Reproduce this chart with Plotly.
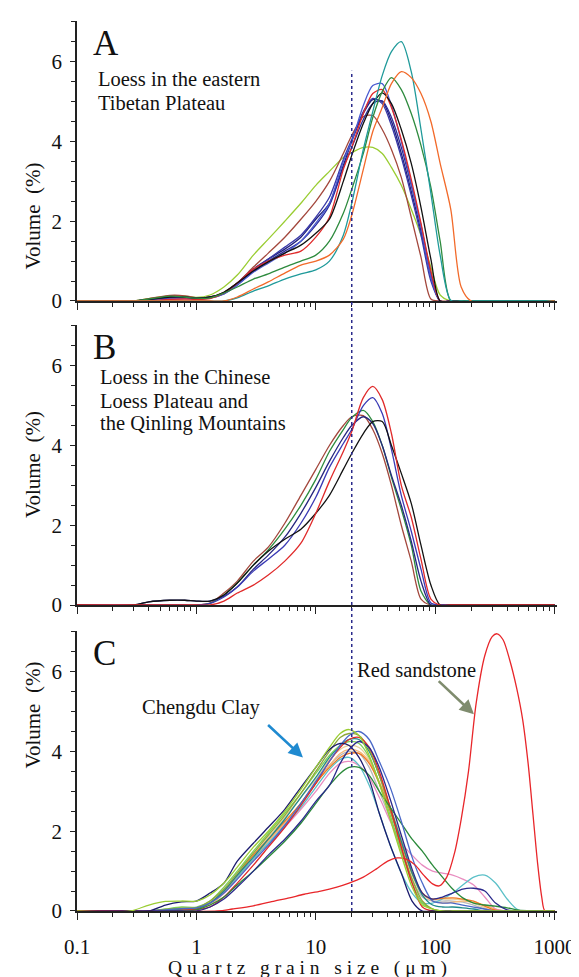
import math
import plotly.graph_objects as go

# ---------------- data ----------------
# Panel A / B common grain-size grid (micrometres)
X_AB = [0.1, 0.3, 0.4, 0.6, 0.8, 1.0, 1.3, 1.7, 2.2, 3.0, 4.0, 5.5, 7.5, 10, 13, 17, 20, 25, 30, 36,
        43, 52, 63, 76, 92, 110, 135, 165, 200, 1000]

A_yellowgreen = [0, 0, 0.06, 0.13, 0.12, 0.09, 0.15, 0.35, 0.65, 1.15, 1.55, 2.0, 2.45, 2.9, 3.25, 3.6, 3.72, 3.85, 3.85, 3.7, 3.35, 2.9, 2.3, 1.65, 0.85, 0.15, 0, 0, 0, 0]
A_brown = [0, 0, 0.06, 0.14, 0.13, 0.08, 0.1, 0.22, 0.45, 0.85, 1.2, 1.6, 2.05, 2.5, 3.0, 3.7, 4.15, 4.62, 4.65, 4.3, 3.8, 3.1, 2.1, 1.1, 0.05, 0, 0, 0, 0, 0]
A_navy1 = [0, 0, 0.04, 0.1, 0.1, 0.07, 0.1, 0.2, 0.45, 0.8, 1.05, 1.3, 1.6, 2.05, 2.45, 3.4, 4.0, 4.7, 5.05, 5.0, 4.5, 3.7, 2.75, 1.75, 0.6, 0, 0, 0, 0, 0]
A_navy2 = [0, 0, 0.03, 0.08, 0.08, 0.06, 0.08, 0.18, 0.4, 0.75, 1.0, 1.25, 1.5, 1.9, 2.4, 3.35, 3.85, 4.55, 4.95, 5.02, 4.6, 3.85, 2.9, 1.9, 0.7, 0, 0, 0, 0, 0]
A_navy3 = [0, 0, 0.03, 0.08, 0.08, 0.06, 0.08, 0.2, 0.42, 0.78, 1.05, 1.35, 1.65, 2.1, 2.6, 3.55, 4.05, 4.75, 5.08, 4.95, 4.4, 3.6, 2.65, 1.65, 0.5, 0, 0, 0, 0, 0]
A_blue = [0, 0, 0, 0.05, 0.06, 0.05, 0.07, 0.18, 0.4, 0.72, 0.95, 1.2, 1.5, 1.95, 2.45, 3.5, 4.0, 4.9, 5.4, 5.45, 4.9, 4.0, 2.95, 1.85, 0.6, 0, 0, 0, 0, 0]
A_red = [0, 0, 0, 0.04, 0.05, 0.04, 0.06, 0.2, 0.45, 0.8, 1.0, 1.15, 1.25, 1.6, 2.1, 3.3, 3.85, 4.7, 5.2, 5.3, 4.85, 4.05, 3.05, 1.95, 0.75, 0, 0, 0, 0, 0]
A_black = [0, 0, 0.04, 0.1, 0.1, 0.07, 0.1, 0.22, 0.45, 0.75, 0.98, 1.2, 1.4, 1.7, 2.05, 3.0, 3.65, 4.45, 4.95, 5.22, 4.95, 4.3, 3.45, 2.35, 1.05, 0, 0, 0, 0, 0]
A_green = [0, 0, 0.05, 0.12, 0.1, 0.07, 0.08, 0.2, 0.35, 0.55, 0.68, 0.85, 1.0, 1.15, 1.5, 2.2, 2.8, 3.7, 4.6, 5.25, 5.6, 5.3, 4.7, 3.9, 2.85, 1.5, 0, 0, 0, 0]
A_teal = [0, 0, 0, 0, 0, 0, 0, 0, 0.08, 0.25, 0.38, 0.55, 0.68, 0.78, 1.0, 1.65, 2.45, 3.8, 4.75, 5.65, 6.25, 6.5, 5.75, 4.3, 2.7, 1.15, 0.02, 0, 0, 0]
A_orange = [0, 0, 0, 0, 0, 0, 0, 0, 0.1, 0.3, 0.48, 0.7, 0.9, 1.0, 1.15, 1.55, 2.15, 3.3, 4.25, 4.85, 5.45, 5.75, 5.6, 5.2, 4.5, 3.45, 2.3, 0.35, 0, 0]

B_brown = [0, 0, 0, 0, 0, 0, 0.05, 0.3, 0.6, 1.1, 1.45, 2.05, 2.75, 3.4, 4.0, 4.5, 4.72, 4.75, 4.4, 3.8, 3.0, 2.0, 1.1, 0.15, 0, 0, 0, 0, 0, 0]
B_green = [0, 0, 0, 0, 0, 0, 0.04, 0.25, 0.55, 1.0, 1.38, 1.9, 2.5, 3.15, 3.85, 4.4, 4.7, 4.88, 4.6, 4.0, 3.2, 2.4, 1.5, 0.35, 0, 0, 0, 0, 0, 0]
B_navy = [0, 0, 0.08, 0.12, 0.12, 0.1, 0.1, 0.22, 0.45, 0.9, 1.25, 1.7, 2.3, 2.95, 3.6, 4.2, 4.5, 4.72, 4.55, 4.0, 3.25, 2.5, 1.6, 0.6, 0, 0, 0, 0, 0, 0]
B_blue = [0, 0, 0, 0, 0, 0, 0.04, 0.2, 0.45, 0.85, 1.15, 1.5, 2.05, 2.7, 3.45, 4.05, 4.4, 5.0, 5.2, 4.8, 3.9, 2.75, 1.85, 0.9, 0.05, 0, 0, 0, 0, 0]
B_red = [0, 0, 0, 0, 0, 0, 0, 0.1, 0.3, 0.5, 0.75, 1.1, 1.55, 2.3, 3.1, 3.85, 4.35, 5.2, 5.48, 5.15, 4.3, 3.0, 2.2, 1.15, 0.15, 0, 0, 0, 0, 0]
B_black = [0, 0, 0.08, 0.12, 0.12, 0.1, 0.1, 0.25, 0.55, 1.0, 1.35, 1.65, 1.9, 2.3, 2.75, 3.4, 3.8, 4.3, 4.6, 4.6, 4.0, 3.3, 2.55, 1.5, 0.5, 0, 0, 0, 0, 0]

# Panel C grid
X_C = [0.1, 0.28, 0.4, 0.55, 0.75, 1.0, 1.3, 1.7, 2.2, 3.0, 4.0, 5.5, 7.5, 10, 13, 16, 19, 23, 28, 34,
       42, 52, 64, 78, 95, 115, 140, 170, 210, 260, 320, 400, 500, 1000]

C_navy_out = [0, 0, 0, 0.15, 0.23, 0.25, 0.45, 0.7, 1.25, 1.7, 2.1, 2.55, 3.1, 3.6, 4.05, 4.2, 4.15, 3.85, 3.3, 2.45, 1.65, 0.95, 0.25, 0, 0, 0, 0, 0, 0, 0, 0, 0, 0, 0]
C_navy_in = [0, 0, 0, 0, 0, 0, 0.1, 0.3, 0.6, 1.0, 1.4, 1.8, 2.25, 2.75, 3.15, 3.7, 4.05, 4.25, 4.1, 3.6, 2.8, 1.9, 1.05, 0.45, 0.3, 0.35, 0.45, 0.55, 0.57, 0.5, 0.2, 0.03, 0, 0]
C_blue = [0, 0, 0, 0.03, 0.06, 0.08, 0.2, 0.45, 0.8, 1.25, 1.65, 2.15, 2.7, 3.25, 3.75, 4.15, 4.4, 4.5, 4.3, 3.75, 3.1, 2.25, 1.35, 0.7, 0.25, 0.2, 0.2, 0.15, 0.1, 0.05, 0, 0, 0, 0]
C_green = [0, 0, 0, 0, 0, 0.03, 0.15, 0.35, 0.65, 1.0, 1.35, 1.75, 2.2, 2.7, 3.15, 3.45, 3.6, 3.6, 3.4, 3.0, 2.6, 2.2, 1.8, 1.5, 1.15, 0.85, 0.55, 0.33, 0.2, 0.15, 0.12, 0.08, 0.02, 0]
C_pink = [0, 0, 0, 0, 0.02, 0.05, 0.2, 0.45, 0.8, 1.25, 1.65, 2.1, 2.55, 3.0, 3.45, 3.7, 3.75, 3.65, 3.35, 2.85, 2.25, 1.7, 1.4, 1.15, 1.0, 0.95, 0.9, 0.8, 0.65, 0.35, 0.05, 0, 0, 0]
C_cyan = [0, 0, 0, 0, 0.02, 0.05, 0.2, 0.5, 0.85, 1.3, 1.7, 2.15, 2.6, 3.1, 3.55, 3.8, 3.85, 3.65, 3.15, 2.45, 1.65, 0.95, 0.45, 0.2, 0.2, 0.3, 0.45, 0.65, 0.85, 0.9, 0.7, 0.3, 0.02, 0]
C_orange = [0, 0, 0, 0.02, 0.05, 0.05, 0.2, 0.5, 0.9, 1.4, 1.8, 2.25, 2.7, 3.2, 3.6, 3.85, 3.95, 3.95, 3.7, 3.2, 2.5, 1.7, 0.95, 0.45, 0.3, 0.32, 0.33, 0.3, 0.25, 0.12, 0.02, 0, 0, 0]
C_peach = [0, 0, 0, 0, 0.03, 0.05, 0.15, 0.45, 0.85, 1.3, 1.75, 2.2, 2.7, 3.2, 3.65, 3.95, 4.05, 4.0, 3.75, 3.25, 2.6, 1.8, 1.0, 0.45, 0.25, 0.2, 0.22, 0.25, 0.22, 0.15, 0.05, 0, 0, 0]
C_teal = [0, 0, 0, 0.02, 0.05, 0.06, 0.2, 0.5, 0.9, 1.35, 1.8, 2.3, 2.85, 3.35, 3.85, 4.15, 4.3, 4.3, 4.0, 3.4, 2.6, 1.75, 0.95, 0.4, 0.15, 0.1, 0.1, 0.08, 0.05, 0, 0, 0, 0, 0]
C_lightgreen = [0, 0, 0, 0.05, 0.1, 0.1, 0.25, 0.6, 1.0, 1.5, 1.95, 2.45, 2.95, 3.45, 3.9, 4.15, 4.25, 4.2, 3.85, 3.2, 2.4, 1.5, 0.7, 0.2, 0.05, 0, 0, 0, 0, 0, 0, 0, 0, 0]
C_gray = [0, 0, 0, 0.03, 0.05, 0.06, 0.15, 0.45, 0.85, 1.3, 1.75, 2.2, 2.7, 3.2, 3.65, 3.9, 4.0, 3.95, 3.6, 3.0, 2.3, 1.5, 0.8, 0.35, 0.25, 0.25, 0.25, 0.22, 0.15, 0.05, 0, 0, 0, 0]
C_redclay = [0, 0, 0, 0, 0.02, 0.04, 0.1, 0.35, 0.7, 1.15, 1.6, 2.1, 2.65, 3.2, 3.75, 4.1, 4.3, 4.35, 4.1, 3.5, 2.6, 1.6, 0.7, 0.1, 0, 0, 0, 0, 0, 0, 0, 0, 0, 0]
C_olive = [0, 0, 0, 0.04, 0.07, 0.08, 0.25, 0.55, 0.95, 1.45, 1.9, 2.4, 2.95, 3.5, 4.0, 4.35, 4.45, 4.4, 4.05, 3.4, 2.55, 1.6, 0.8, 0.25, 0.05, 0, 0, 0, 0, 0, 0, 0, 0, 0]
C_tan = [0, 0, 0, 0.03, 0.05, 0.06, 0.2, 0.5, 0.9, 1.4, 1.85, 2.35, 2.85, 3.3, 3.8, 4.05, 4.15, 4.1, 3.8, 3.2, 2.5, 1.7, 0.9, 0.4, 0.3, 0.3, 0.3, 0.28, 0.2, 0.08, 0, 0, 0, 0]
C_yellowgreen = [0, 0, 0.15, 0.24, 0.25, 0.25, 0.4, 0.7, 1.1, 1.6, 2.0, 2.5, 3.05, 3.6, 4.1, 4.45, 4.55, 4.4, 3.9, 3.2, 2.3, 1.4, 0.6, 0.15, 0.05, 0, 0, 0, 0, 0, 0, 0, 0, 0]

# Red sandstone (panel C)
X_RED = [0.1, 1.5, 2, 3, 4.5, 6, 8, 11, 15, 19, 25, 32, 40, 48, 57, 68, 80, 95, 108, 125,
         145, 165, 190, 220, 260, 300, 330, 370, 420, 480, 540, 600, 660, 720, 780, 830, 1000]
Y_RED = [0, 0, 0.05, 0.13, 0.25, 0.33, 0.42, 0.5, 0.6, 0.7, 0.85, 1.05, 1.25, 1.33, 1.3, 1.15, 0.9, 0.68, 0.63, 0.85,
         1.45, 2.3, 3.5, 5.2, 6.4, 6.88, 6.95, 6.8, 6.3, 5.6, 4.8, 3.7, 2.4, 1.2, 0.35, 0, 0]

DASH_X = 20  # micrometres
X_TICKS = [0.1, 1, 10, 100, 1000]
X_TICK_TEXT = ["0.1", "1", "10", "100", "1000"]
X_MINOR = [m * 10 ** e for e in range(-1, 3) for m in range(2, 10)]
Y_TICKS = [0, 2, 4, 6]

# ---------------- figure ----------------
FONT = "Liberation Serif, Times New Roman, serif"
fig = go.Figure()


def add(xs, ys, color, panel):
    xa = "x" if panel == 1 else f"x{panel}"
    ya = "y" if panel == 1 else f"y{panel}"
    fig.add_trace(go.Scatter(x=xs, y=ys, mode="lines", xaxis=xa, yaxis=ya,
                             line=dict(color=color, width=1.3, shape="spline", smoothing=0.8),
                             showlegend=False, hoverinfo="skip"))


for ys, c in [(A_yellowgreen, "#9acd32"), (A_brown, "#a3473c"), (A_navy1, "#1f1f7a"),
              (A_navy2, "#2b2b99"), (A_navy3, "#3838a8"), (A_blue, "#4a5ad0"),
              (A_red, "#e02a2a"), (A_black, "#111111"), (A_green, "#2e8b3e"),
              (A_teal, "#1f9a9a"), (A_orange, "#f26a2a")]:
    add(X_AB, ys, c, 1)

for ys, c in [(B_brown, "#a3473c"), (B_green, "#2e8b3e"), (B_navy, "#262680"),
              (B_blue, "#3a3ab5"), (B_black, "#111111"), (B_red, "#e02a2a")]:
    add(X_AB, ys, c, 2)

for ys, c in [(C_gray, "#b8b8b8"), (C_tan, "#e8d09a"), (C_peach, "#f5b878"), (C_pink, "#e88cc0"),
              (C_cyan, "#5bc0c8"), (C_orange, "#f07820"), (C_teal, "#1f8a8a"),
              (C_lightgreen, "#7ccf5a"), (C_olive, "#8fa838"), (C_redclay, "#e02828"),
              (C_green, "#2a8a3a"), (C_blue, "#4a68c8"), (C_navy_in, "#2a2a8c"),
              (C_navy_out, "#1c1c6e")]:
    add(X_C, ys, c, 3)
add(X_RED, Y_RED, "#e8262a", 3)
add(X_C, C_yellowgreen, "#9acd32", 3)

domains = {1: [0.6854, 1.0], 2: [0.3438, 0.6584], 3: [0.0, 0.3146]}
axis_line = dict(showline=True, linecolor="#222", linewidth=1.5, showgrid=False, zeroline=False,
                 ticks="outside", tickcolor="#222", tickwidth=1.2, automargin=False)
tick_font = dict(family=FONT, size=21, color="#111")

layout = dict(width=579, height=977, paper_bgcolor="white", plot_bgcolor="white",
              margin=dict(l=69, r=30, t=13, b=74, autoexpand=False),
              font=dict(family=FONT, color="#111"))
for p in (1, 2, 3):
    xk = "xaxis" if p == 1 else f"xaxis{p}"
    yk = "yaxis" if p == 1 else f"yaxis{p}"
    layout[xk] = dict(type="log", range=[-1, 3.02], domain=[0, 1], anchor="y" if p == 1 else f"y{p}",
                      tickvals=X_TICKS, ticktext=X_TICK_TEXT, ticklen=7,
                      showticklabels=(p == 3), tickfont=tick_font, ticklabelstandoff=9,
                      minor=dict(tickvals=X_MINOR, ticks="outside", ticklen=4, tickcolor="#222", tickwidth=1),
                      **axis_line)
    layout[yk] = dict(range=[0, 7.02], domain=domains[p], anchor="x" if p == 1 else f"x{p}",
                      tickvals=Y_TICKS, ticklen=5, tickfont=tick_font, ticklabelstandoff=4,
                      minor=dict(dtick=0.5, ticks="outside", ticklen=4, tickcolor="#222", tickwidth=1),
                      **axis_line)
fig.update_layout(**layout)

# dashed reference line at 20 um spanning all panels
xp = (math.log10(DASH_X) + 1) / 4.02
fig.add_shape(type="line", xref="paper", yref="paper", x0=xp, x1=xp, y0=0, y1=0.944,
              line=dict(color="#2b2b8c", width=1.5, dash="dot"))

ann = []
for p, letter in [(1, "A"), (2, "B"), (3, "C")]:
    ann.append(dict(text=letter, xref="paper", yref="paper", x=0, xshift=14, y=domains[p][1],
                    yshift=-1, xanchor="left", yanchor="top", showarrow=False,
                    font=dict(family=FONT, size=35, color="#111")))
    ann.append(dict(text="Volume\u00a0\u00a0(%)", xref="paper", yref="paper", x=0, xshift=-44,
                    y=sum(domains[p]) / 2, textangle=-90, showarrow=False, xanchor="center",
                    font=dict(family=FONT, size=21, color="#111")))

NOTE_FONT = dict(family=FONT, size=20.5, color="#111")
for txt, yv in [("Loess in the eastern", 5.56), ("Tibetan Plateau", 4.97)]:
    ann.append(dict(text=txt, xref="paper", yref="y", x=0, xshift=20, y=yv, xanchor="left",
                    yanchor="middle", showarrow=False, borderpad=0, font=NOTE_FONT))
for txt, yv in [("Loess in the Chinese", 5.71), ("Loess Plateau and", 5.125),
                ("the Qinling Mountains", 4.54)]:
    ann.append(dict(text=txt, xref="paper", yref="y2", x=0, xshift=22, y=yv, xanchor="left",
                    yanchor="middle", showarrow=False, borderpad=0, font=NOTE_FONT))

ann.append(dict(text="Chengdu Clay", xref="x3", yref="y3", x=math.log10(1.11), y=5.1,
                showarrow=False, font=NOTE_FONT))
ann.append(dict(text="Red sandstone", xref="x3", yref="y3", x=math.log10(70), y=6.03,
                showarrow=False, font=NOTE_FONT))
ann.append(dict(text="", xref="x3", yref="y3", axref="x3", ayref="y3",
                x=math.log10(7.8), y=3.85, ax=math.log10(3.87), ay=4.7,
                showarrow=True, arrowhead=2, arrowsize=1.1, arrowwidth=2.6, arrowcolor="#1f8ad0"))
ann.append(dict(text="", xref="x3", yref="y3", axref="x3", ayref="y3",
                x=math.log10(211), y=4.93, ax=math.log10(104), ay=5.8,
                showarrow=True, arrowhead=2, arrowsize=1.1, arrowwidth=2.6, arrowcolor="#7f8c6e"))
ann.append(dict(text="Q\u00a0u\u00a0a\u00a0r\u00a0t\u00a0z\u00a0\u00a0\u00a0g\u00a0r\u00a0a\u00a0i\u00a0n\u00a0\u00a0\u00a0s\u00a0i\u00a0z\u00a0e\u00a0\u00a0\u00a0(\u00a0\u03bc\u00a0m\u00a0)",
                xref="paper", yref="paper", x=0.5, xshift=-10, y=0, yshift=-57, yanchor="middle",
                showarrow=False, font=dict(family=FONT, size=19.5, color="#111")))
fig.update_layout(annotations=ann)

fig.write_html("out.html")
